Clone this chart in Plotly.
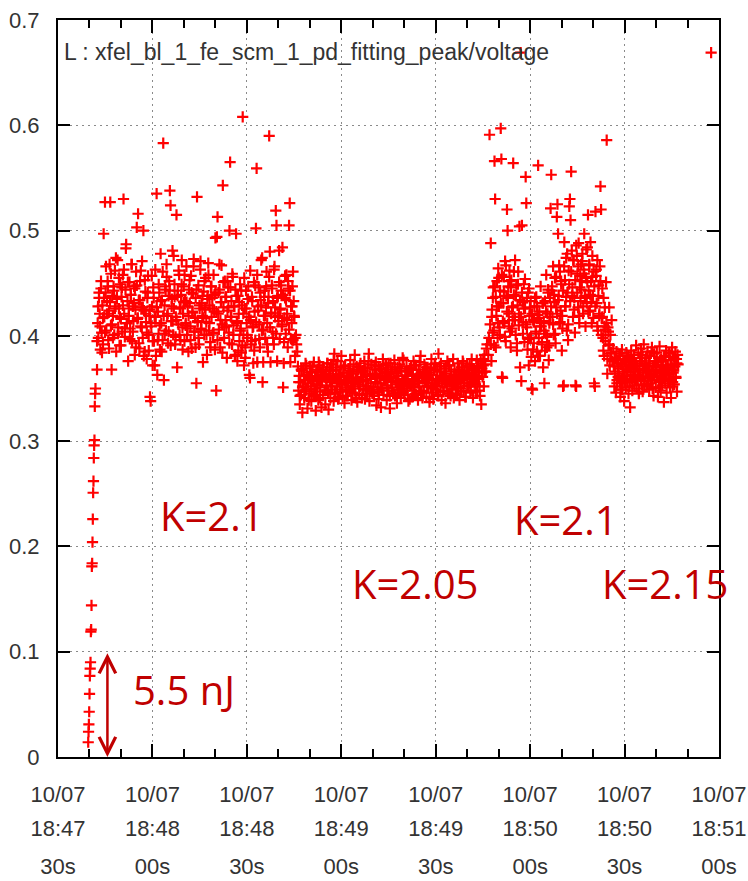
import numpy as np
import pandas as pd
import plotly.graph_objects as go

T0 = pd.Timestamp("2017-10-07 18:47:30")

# ---------------- data (photodiode voltage, in mV) ----------------
ramp_window_s = (9.6, 11.9)
ramp_mv = [14, 24, 31, 43, 60, 77, 84, 90, 119, 121, 144, 181, 184, 204, 226, 251, 262,
           284, 296, 301, 333, 345, 350]

high1_window_s = (12.4, 75.3)   # K = 2.1
high1_mv = [
    368, 412, 398, 436, 421, 387, 445, 403, 429, 392,
    497, 418, 527, 441, 405, 433, 452, 396, 424, 468,
    527, 410, 368, 438, 419, 447, 401, 462, 428, 385,
    435, 472, 408, 426, 391, 449, 416, 437, 404, 458,
    530, 421, 399, 444, 487, 412, 433, 376, 419, 451,
    407, 439, 468, 395, 428, 414, 447, 382, 425, 461,
    503, 416, 516, 434, 388, 452, 409, 427, 471, 398,
    500, 424, 385, 442, 413, 378, 436, 457, 401, 419,
    342, 338, 409, 428, 372, 446, 395, 418, 463, 381,
    535, 363, 423, 402, 441, 387, 478, 412, 434, 396,
    583, 358, 429, 447, 405, 468, 419, 393, 438, 452,
    538, 524, 414, 435, 481, 401, 426, 449, 392, 418,
    515, 370, 443, 411, 458, 427, 396, 439, 472, 408,
    421, 447, 395, 433, 412, 466, 401, 428, 385, 444,
    431, 409, 457, 388, 422, 440, 473, 404, 417, 436,
    355, 532, 414, 448, 392, 426, 463, 407, 431, 419,
    375, 442, 401, 427, 455, 413, 382, 438, 469, 405,
    429, 394, 447, 418, 436, 402, 458, 423, 387, 441,
    348, 494, 513, 421, 406, 444, 389, 432, 467, 411,
    543, 427, 398, 452, 415, 437, 379, 424, 446, 403,
    500, 565, 418, 433, 392, 456, 410, 428, 381, 444,
    497, 412, 376, 438, 421, 395, 449, 407, 384, 429,
    608, 401, 372, 426, 389, 443, 412, 398, 435, 418,
    363, 360, 415, 392, 437, 408, 374, 451, 423, 396,
    502, 559, 375, 428, 446, 411, 389, 434, 472, 405,
    356, 375, 419, 443, 398, 427, 461, 412, 385, 437,
    590, 480, 375, 421, 448, 404, 433, 392, 466, 418,
    519, 505, 376, 438, 414, 451, 397, 426, 443, 409,
    484, 351, 374, 417, 436, 402, 458, 421, 389, 445,
    505, 526, 375, 428, 412, 447, 396, 433, 418, 381,
]
# second channel sweep interleaved in the same window (the dense core of the band)
high1b_mv = [
    395, 428, 441, 409, 452, 384, 417, 436, 403, 466,
    421, 447, 388, 432, 459, 411, 398, 443, 426, 474,
    437, 402, 455, 418, 391, 446, 429, 463, 407, 483,
    412, 451, 426, 397, 439, 468, 404, 431, 445, 389,
    448, 417, 393, 434, 462, 408, 427, 381, 453, 421,
    403, 441, 386, 425, 412, 457, 395, 436, 372, 418,
    427, 396, 449, 410, 433, 385, 461, 419, 402, 444,
    456, 421, 404, 443, 391, 428, 414, 476, 437, 399,
    415, 438, 462, 401, 426, 449, 387, 432, 458, 410,
    432, 407, 419, 453, 396, 441, 423, 466, 404, 389,
    444, 413, 398, 429, 471, 406, 438, 417, 452, 425,
    401, 435, 458, 412, 389, 447, 426, 403, 439, 493,
    423, 396, 441, 468, 415, 432, 384, 451, 408, 437,
    409, 452, 427, 393, 446, 418, 459, 401, 428, 382,
    438, 414, 386, 432, 405, 443, 391, 421, 455, 379,
    426, 401, 447, 418, 462, 395, 433, 409, 386, 448,
    413, 458, 424, 397, 441, 429, 474, 406, 437, 419,
    447, 392, 431, 456, 408, 422, 445, 398, 463, 427,
    402, 436, 419, 481, 425, 448, 411, 439, 394, 457,
    434, 415, 452, 406, 443, 397, 428, 461, 419, 398,
]

low_window_s = (75.6, 136.3)    # K = 2.05
low_mv = [
    401, 392, 385, 371, 348, 362, 335, 356, 344, 367,
    327, 352, 369, 341, 358, 374, 349, 363, 331, 355,
    360, 345, 371, 352, 338, 366, 357, 343, 375, 350,
    362, 329, 354, 347, 368, 339, 359, 372, 351, 365,
    332, 357, 344, 370, 361, 348, 335, 366, 353, 374,
    346, 330, 364, 356, 341, 373, 358, 349, 367, 338,
    383, 359, 345, 368, 352, 376, 340, 363, 356, 347,
    370, 381, 354, 342, 365, 358, 336, 372, 349, 361,
    355, 343, 369, 360, 348, 377, 352, 339, 364, 357,
    366, 350, 382, 345, 359, 371, 337, 356, 368, 344,
    352, 374, 361, 341, 357, 367, 349, 376, 340, 363,
    358, 345, 370, 352, 383, 338, 362, 355, 373, 347,
    364, 351, 343, 368, 356, 375, 334, 360, 349, 371,
    346, 362, 355, 332, 369, 350, 378, 344, 358, 365,
    359, 372, 339, 353, 366, 348, 361, 331, 374, 356,
    351, 368, 345, 360, 377, 343, 357, 364, 336, 370,
    362, 349, 373, 355, 341, 367, 352, 379, 346, 358,
    344, 366, 357, 371, 350, 362, 338, 355, 369, 353,
    370, 354, 342, 363, 376, 348, 359, 345, 372, 361,
    357, 339, 368, 352, 364, 381, 347, 360, 341, 366,
    348, 373, 356, 365, 342, 358, 370, 352, 363, 337,
    365, 351, 378, 346, 359, 340, 367, 355, 374, 349,
    353, 368, 344, 383, 357, 371, 348, 362, 339, 360,
    361, 347, 369, 355, 336, 364, 352, 376, 345, 358,
    372, 356, 343, 366, 359, 349, 378, 341, 363, 354,
    345, 363, 357, 374, 351, 368, 339, 360, 347, 370,
    360, 376, 348, 355, 367, 342, 362, 371, 353, 364,
    352, 365, 373, 346, 360, 378, 356, 341, 369, 358,
    367, 354, 362, 377, 348, 371, 359, 366, 343, 374,
    335, 369, 361, 378, 352, 382, 373, 366, 388, 392,
]
low_b_window_s = (76.5, 135.5)
low_b_mv = [
    356, 343, 368, 351, 362, 347, 372, 358, 339, 365,
    349, 371, 357, 344, 366, 353, 375, 341, 360, 368,
    363, 348, 359, 374, 345, 367, 352, 361, 377, 346,
    370, 355, 342, 364, 358, 349, 371, 357, 343, 362,
    351, 367, 360, 346, 373, 356, 341, 366, 354, 370,
    365, 344, 357, 369, 350, 362, 376, 348, 359, 345,
    347, 372, 363, 355, 340, 368, 351, 364, 373, 358,
    361, 350, 374, 343, 366, 357, 345, 370, 356, 349,
    354, 369, 346, 359, 377, 348, 362, 353, 367, 340,
    368, 357, 351, 372, 344, 363, 355, 375, 347, 361,
    346, 364, 370, 353, 360, 341, 369, 358, 350, 373,
    359, 352, 343, 366, 374, 355, 347, 362, 371, 354,
    372, 345, 361, 350, 357, 368, 352, 344, 365, 359,
    350, 366, 374, 359, 342, 371, 363, 355, 348, 369,
    363, 355, 347, 370, 361, 352, 376, 365, 372, 366,
]

high2_window_s = (136.7, 176.1)  # K = 2.1
high2_mv = [
    382, 398, 591, 411, 488, 376, 425, 403, 446, 391,
    566, 530, 437, 419, 452, 398, 464, 428, 408, 443,
    597, 568, 361, 360, 431, 456, 412, 471, 395, 438,
    520, 500, 447, 421, 462, 404, 389, 453, 427, 415,
    564, 439, 418, 472, 401, 448, 386, 429, 461, 410,
    504, 370, 669, 357, 505, 432, 413, 449, 394, 426,
    551, 526, 408, 387, 441, 372, 419, 398, 433, 380,
    350, 349, 415, 393, 428, 376, 404, 437, 385, 420,
    562, 398, 423, 381, 447, 409, 392, 431, 370, 414,
    355, 433, 402, 458, 389, 421, 444, 377, 412, 436,
    521, 553, 443, 418, 466, 401, 432, 455, 393, 427,
    513, 525, 497, 438, 412, 461, 424, 449, 386, 407,
    352, 353, 489, 453, 428, 474, 405, 441, 396, 462,
    523, 530, 510, 556, 481, 446, 418, 472, 436, 403,
    353, 352, 476, 459, 427, 488, 412, 446, 433, 468,
    452, 478, 421, 463, 497, 438, 409, 455, 431, 484,
    515, 443, 467, 424, 489, 452, 412, 476, 438, 461,
    355, 352, 518, 457, 431, 472, 405, 448, 419, 466,
    542, 520, 417, 445, 398, 436, 381, 427, 406, 451,
    586, 364, 408, 392, 427, 372, 401, 384, 415, 376,
]
high2b_window_s = (137.5, 175.5)
high2b_mv = [
    392, 418, 436, 405, 447, 389, 428, 412, 455, 401,
    431, 458, 414, 442, 399, 467, 423, 436, 409, 452,
    446, 407, 428, 461, 415, 438, 393, 449, 421, 434,
    418, 441, 402, 426, 454, 411, 436, 397, 445, 427,
    398, 421, 387, 413, 436, 402, 428, 381, 417, 409,
    412, 394, 431, 405, 386, 423, 399, 441, 391, 418,
    428, 447, 411, 439, 402, 456, 421, 434, 467, 413,
    452, 419, 443, 466, 428, 437, 478, 411, 449, 433,
    461, 438, 472, 425, 453, 486, 441, 466, 419, 457,
    444, 471, 428, 459, 436, 482, 451, 423, 468, 439,
    432, 456, 417, 447, 428, 463, 409, 438, 421, 452,
    401, 418, 386, 409, 395, 412, 378, 404, 391, 383,
]

k215_window_s = (176.4, 197.0)   # K = 2.15
k215_mv = [
    388, 371, 352, 379, 364, 346, 385, 358, 374, 361,
    369, 381, 355, 342, 373, 360, 387, 349, 366, 377,
    338, 362, 375, 351, 384, 368, 356, 379, 345, 371,
    357, 332, 370, 386, 359, 348, 376, 363, 382, 353,
    374, 366, 391, 350, 372, 358, 384, 345, 368, 379,
    361, 388, 354, 376, 347, 369, 392, 357, 373, 365,
    379, 352, 367, 385, 360, 374, 349, 381, 363, 355,
    366, 389, 358, 371, 343, 383, 362, 376, 351, 370,
    384, 362, 342, 375, 356, 390, 367, 348, 378, 360,
    353, 376, 365, 337, 381, 359, 372, 386, 346, 369,
    372, 358, 383, 364, 351, 377, 341, 368, 389, 356,
    365, 380, 354, 371, 385, 360, 378, 347, 382, 373,
]
k215b_window_s = (176.9, 196.6)
k215b_mv = [
    366, 378, 355, 371, 360, 383, 349, 374, 362, 357,
    373, 359, 368, 381, 352, 365, 377, 356, 369, 361,
    358, 371, 363, 347, 376, 359, 382, 367, 353, 374,
    379, 354, 366, 372, 361, 385, 350, 364, 376, 368,
    362, 375, 351, 368, 357, 371, 366, 380, 355, 363,
    370, 357, 384, 359, 373, 352, 367, 378, 361, 374,
]

extra_s = [207.5]
extra_mv = [669]

tick_seconds = [0, 30, 60, 90, 120, 150, 180, 210]
tick_line1 = ["10/07"] * 8
tick_line2 = ["18:47", "18:48", "18:48", "18:49", "18:49", "18:50", "18:50", "18:51"]
tick_line3 = ["30s", "00s", "30s", "00s", "30s", "00s", "30s", "00s"]
y_ticks = [0, 0.1, 0.2, 0.3, 0.4, 0.5, 0.6, 0.7]
y_ticktext = ["0", "0.1", "0.2", "0.3", "0.4", "0.5", "0.6", "0.7"]

legend_text = "L : xfel_bl_1_fe_scm_1_pd_fitting_peak/voltage"
k_labels = [("K=2.1", 48.9, 0.229), ("K=2.05", 113.4, 0.165),
            ("K=2.1", 161.3, 0.226), ("K=2.15", 192.9, 0.165)]
energy_label = ("5.5 nJ", 40.0, 0.064)
arrow_s = 15.7
arrow_span = (0.0, 0.1)


# ---------------- build series ----------------
def ts(sec):
    return T0 + pd.to_timedelta(np.asarray(sec, dtype=float), unit="s")


def segment(window, mv):
    secs = np.linspace(window[0], window[1], len(mv))
    return list(ts(secs)), [v / 1000.0 for v in mv]


xs, ys = [], []
for w, mv in [(ramp_window_s, ramp_mv), (high1_window_s, high1_mv), (high1_window_s, high1b_mv),
              (low_window_s, low_mv), (low_b_window_s, low_b_mv),
              (high2_window_s, high2_mv), (high2b_window_s, high2b_mv),
              (k215_window_s, k215_mv), (k215b_window_s, k215b_mv)]:
    sx, sy = segment(w, mv)
    xs += sx
    ys += sy
xs += list(ts(extra_s))
ys += [v / 1000.0 for v in extra_mv]

RED = "#ff0000"
DARKRED = "#c00000"
TXT = "#333333"
FONT = "Liberation Sans, Arial, sans-serif"

fig = go.Figure()
fig.add_trace(go.Scatter(x=xs, y=ys, mode="markers",
                         marker=dict(symbol="cross-thin", size=8, color=RED,
                                     line=dict(width=2.2, color=RED)),
                         showlegend=False, hoverinfo="x+y"))
# empty traces so the extra label rows are drawn
fig.add_trace(go.Scatter(x=[], y=[], xaxis="x2", showlegend=False))
fig.add_trace(go.Scatter(x=[], y=[], xaxis="x3", showlegend=False))

x_range = [T0, T0 + pd.Timedelta(seconds=210)]
tickvals = list(ts(tick_seconds))

common_font = dict(family=FONT, size=22, color=TXT)
fig.update_layout(
    width=748, height=881,
    margin=dict(l=58, r=29, t=20, b=124, autoexpand=False),
    paper_bgcolor="white", plot_bgcolor="white",
    showlegend=False,
    xaxis=dict(type="date", range=x_range, tickmode="array", tickvals=tickvals, ticktext=tick_line1,
               ticks="inside", ticklen=13, tickwidth=2, tickcolor="black",
               showline=True, linecolor="black", linewidth=2, mirror="allticks",
               showgrid=True, gridcolor="#8a8a8a", gridwidth=1, griddash="2px,4px",
               minor=dict(tickmode="linear", tick0=T0, dtick=10000, ticks="inside", ticklen=8,
                          tickwidth=1.5, tickcolor="black", showgrid=False),
               tickfont=common_font, ticklabelstandoff=17, zeroline=False, automargin=False),
    xaxis2=dict(type="date", overlaying="x", anchor="y", side="bottom", range=x_range,
                tickmode="array", tickvals=tickvals, ticktext=tick_line2, ticks="",
                showline=False, showgrid=False, zeroline=False, automargin=False,
                tickfont=common_font, ticklabelstandoff=56),
    xaxis3=dict(type="date", overlaying="x", anchor="y", side="bottom", range=x_range,
                tickmode="array", tickvals=tickvals, ticktext=tick_line3, ticks="",
                showline=False, showgrid=False, zeroline=False, automargin=False,
                tickfont=common_font, ticklabelstandoff=94),
    yaxis=dict(range=[0, 0.7], tickmode="array", tickvals=y_ticks, ticktext=y_ticktext,
               ticks="inside", ticklen=12, tickwidth=2, tickcolor="black",
               showline=True, linecolor="black", linewidth=2, mirror="ticks",
               showgrid=True, gridcolor="#8a8a8a", gridwidth=1, griddash="2px,4px",
               tickfont=common_font, ticklabelstandoff=12, zeroline=False, automargin=False),
)

fig.add_annotation(xref="paper", yref="paper", x=0.006, y=0.9566, xanchor="left", yanchor="middle",
                   text=legend_text, showarrow=False, font=dict(family=FONT, size=23, color=TXT))

for txt, sec, val in k_labels + [energy_label]:
    fig.add_annotation(x=ts([sec])[0], y=val, xref="x", yref="y", text=txt, showarrow=False,
                       xanchor="center", yanchor="middle",
                       font=dict(family="Open Sans, Noto Sans, sans-serif", size=40, color=DARKRED))

t_arrow = ts([arrow_s])[0]
fig.add_annotation(x=t_arrow, y=arrow_span[0], ax=t_arrow, ay=arrow_span[1],
                   xref="x", yref="y", axref="x", ayref="y", text="", showarrow=True,
                   arrowhead=5, startarrowhead=5, arrowside="end+start",
                   arrowwidth=2.5, arrowsize=1.3, startarrowsize=1.3,
                   arrowcolor=DARKRED, standoff=0, startstandoff=0)

fig.write_html("out.html")
